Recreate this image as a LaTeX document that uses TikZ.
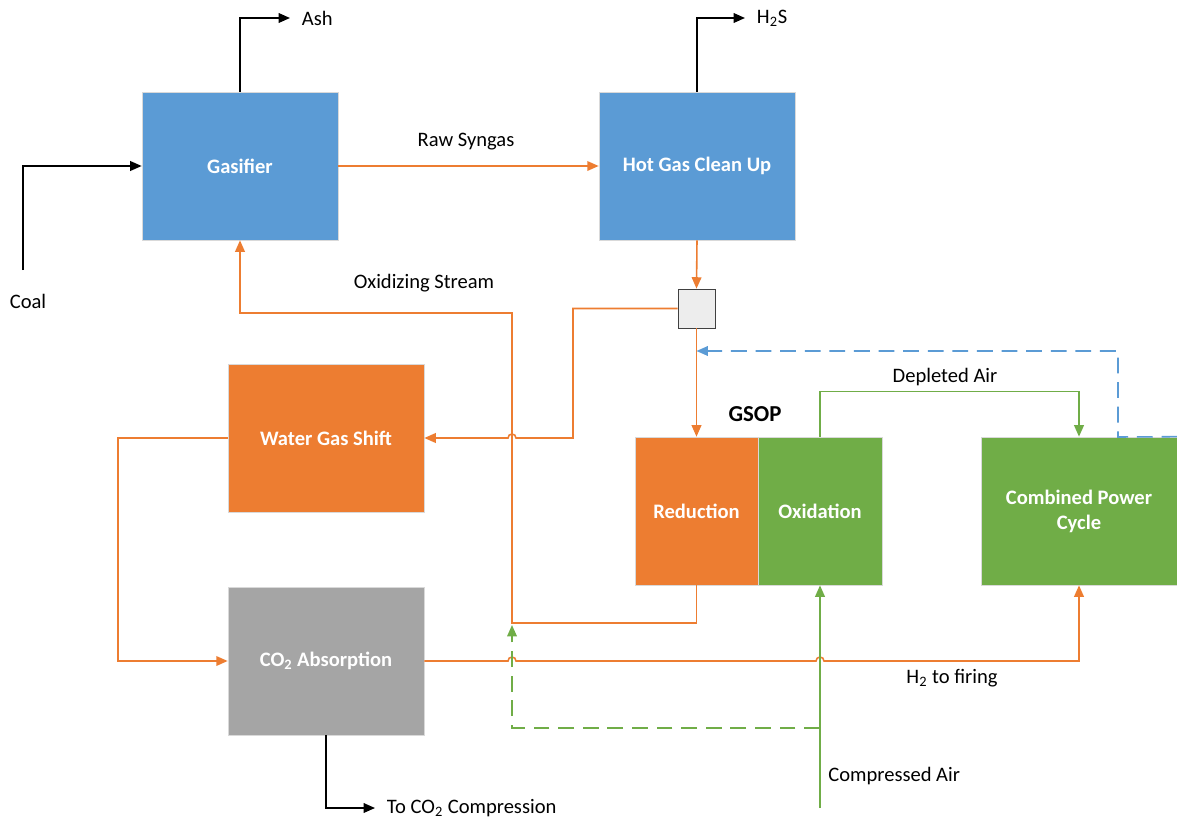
\documentclass[tikz,border=0pt]{standalone}
\usepackage{fontspec}
\setmainfont{Carlito}
\usetikzlibrary{arrows.meta}

\definecolor{boxblue}{HTML}{5B9BD5}
\definecolor{boxorange}{HTML}{ED7D31}
\definecolor{boxgreen}{HTML}{70AD47}
\definecolor{boxgray}{HTML}{A5A5A5}
\definecolor{splitgray}{HTML}{EDEDED}

\tikzset{
    unit/.style={draw=black!15, line width=0.4pt, minimum width=3.92cm, minimum height=2.96cm,
        inner sep=0pt, text=white, font=\fontsize{11.7}{14.2}\selectfont\bfseries, align=center},
    tag/.style={black, font=\fontsize{11.7}{14}\selectfont, inner sep=0pt},
    outlet/.style={tag, anchor=west, outer xsep=6.8pt},
    flow/.style={line width=0.9pt, -{Triangle[length=6.5pt,width=5.5pt]}},
    blk/.style={flow, black},
    orng/.style={flow, boxorange},
    grn/.style={flow, boxgreen},
}

\begin{document}
\begin{tikzpicture}[x=0.02cm, y=-0.02cm]
        \useasboundingbox (0,0) rectangle (1177,818);

        % Units
        \node [unit, fill=boxblue] (gasifier) at (240,166) {Gasifier};
        \node [unit, fill=boxblue] (cleanup) at (697,166) {Hot Gas Clean Up};
        \node [draw=black!75, fill=splitgray, minimum width=0.74cm, minimum height=0.78cm, inner sep=0pt] (split) at (696.5,308.5) {};
        \node [unit, fill=boxorange] (shift) at (326,438) {Water Gas Shift};
        \node [unit, fill=boxgray] (absorb) at (326,661) {CO\textsubscript{2} Absorption};
        \node [unit, fill=boxorange, minimum width=2.46cm] (reduct) at (696.5,511) {Reduction};
        \node [unit, fill=boxgreen, minimum width=2.48cm] (oxid) at (820,511) {Oxidation};
        \node [unit, fill=boxgreen] (power) at (1079,511) {Combined Power\\Cycle};

        % Labels
        \node [tag, font=\fontsize{13}{15}\selectfont\bfseries] (gsop) at (755,414) {GSOP};
        \node [tag] (coal) at (28,301) {Coal};
        \node [tag] (rawgas) at (466,142) {Raw Syngas};
        \node [tag] (oxstream) at (424,283) {Oxidizing Stream};
        \node [tag] (depleted) at (945,377) {Depleted Air};
        \node [tag] (firing) at (952,678) {H\textsubscript{2} to firing};
        \node [tag, anchor=west] (compair) at (828,776) {Compressed Air};
        \node [outlet] (ash) at (290,18) {Ash};
        \node [outlet] (hydsulf) at (745,18) {H\textsubscript{2}S};
        \node [outlet] (tocomp) at (375,808) {To CO\textsubscript{2} Compression};

        \coordinate (coalin) at (23,270);
        \coordinate (airin) at (820,808);
        \coordinate (airtap) at (820,728);
        \coordinate (airout) at (512,625);

        % Solids and sulfur
        \draw [blk] (coalin) |- (gasifier.west);
        \draw [blk] (gasifier.north) |- (ash.west);
        \draw [blk] (cleanup.north) |- (hydsulf.west);
        \draw [blk] (absorb.south) |- (tocomp.west);

        % Syngas train
        \draw [orng] (gasifier.east) -- (cleanup.west);
        \draw [orng] (cleanup.south) -- (split.north);
        \draw [orng] (split.south) -- (reduct.north);
        \draw [orng] (split.west) -| (573,438) -- (516,438) arc [start angle=0, end angle=-180, radius=4] -- (shift.east);
        \draw [orng] (reduct.south) |- (512,623) -- (512,313) -| (gasifier.south);
        \draw [orng] (shift.west) -- (118,438) |- (absorb.west);
        \draw [orng] (absorb.east) -- (508,661) arc [start angle=180, end angle=360, radius=4]
            -- (816,661) arc [start angle=180, end angle=360, radius=4] -| (power.south);

        % Air side
        \draw [grn] (airin) -- (oxid.south);
        \draw [grn, dashed, dash pattern=on 9pt off 5pt] (airtap) -| (airout);
        \draw [grn] (oxid.north) -- ++(0,-45) -| (power.north);
        \draw [flow, boxblue, dashed, dash pattern=on 9pt off 5pt] (power.north east) -- (1118,437) -- (1118,351) -- (split.south |- 0,351);
    \end{tikzpicture}
\end{document}
